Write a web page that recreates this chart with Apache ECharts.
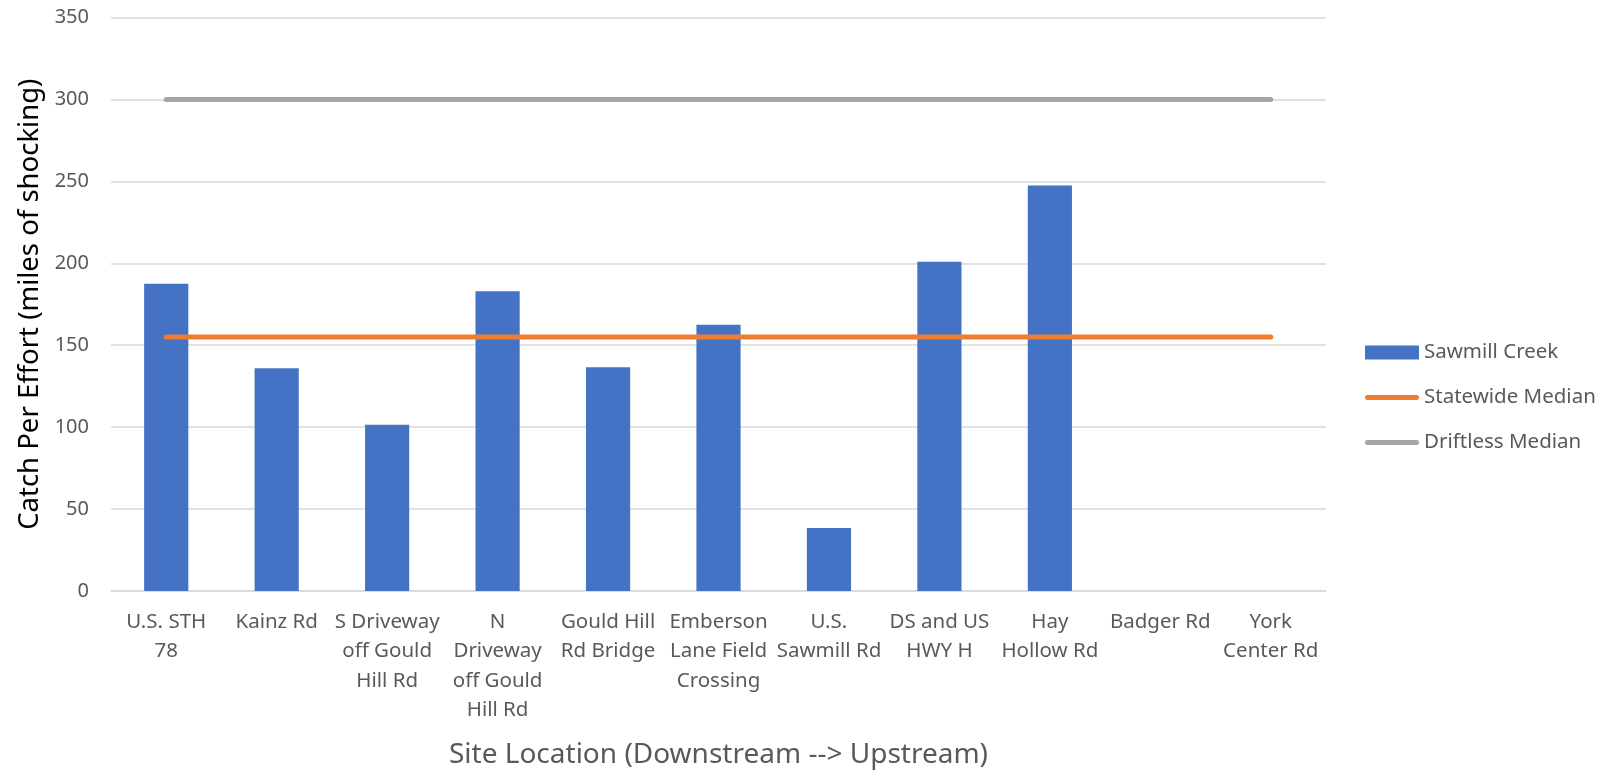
<!DOCTYPE html>
<html>
<head>
<meta charset="utf-8">
<script src="https://cdn.jsdelivr.net/npm/echarts@6/dist/echarts.min.js"></script>
<style>
  html, body { margin: 0; padding: 0; background: #fff; }
  #chart { width: 1612px; height: 770px; }
</style>
</head>
<body>
<div id="chart"></div>
<script>
// sites, downstream -> upstream (line breaks as wrapped in the original)
const sites = [
  'U.S. STH\n78',
  'Kainz Rd',
  'S Driveway\noff Gould\nHill Rd',
  'N\nDriveway\noff Gould\nHill Rd',
  'Gould Hill\nRd Bridge',
  'Emberson\nLane Field\nCrossing',
  'U.S.\nSawmill Rd',
  'DS and US\nHWY H',
  'Hay\nHollow Rd',
  'Badger Rd',
  'York\nCenter Rd'
]
const sawmillCreek = [187.5, 136, 101.5, 183, 136.5, 162.5, 38.5, 201, 247.5, 0, 0]
const statewideMedian = [155, 155, 155, 155, 155, 155, 155, 155, 155, 155, 155]
const driftlessMedian = [300, 300, 300, 300, 300, 300, 300, 300, 300, 300, 300]
const yTicks = { min: 0, max: 350, interval: 50 }

const FONT = '"Noto Sans", "Open Sans", sans-serif'
const GREY_TEXT = '#595959'
// rounded line used as legend icon for the two median lines
const LINE_ICON = 'path://M2.5,0H51.5A2.5,2.5,0,0,1,51.5,5H2.5A2.5,2.5,0,0,1,2.5,0Z'

const chart = echarts.init(document.getElementById('chart'))

const option = {
  backgroundColor: '#fff',
  animation: false,
  textStyle: { fontFamily: FONT },
  grid: {
    left: 111,
    right: 286,
    top: 17.5,
    bottom: 179,
    containLabel: false,
    outerBoundsMode: 'none'
  },
  legend: {
    orient: 'vertical',
    left: 1360,
    top: 336.5,
    itemWidth: 54,
    itemHeight: 14,
    itemGap: 23,
    textStyle: { color: GREY_TEXT, fontSize: 20.5, lineHeight: 22, fontFamily: FONT },
    data: [
      { name: 'Sawmill Creek', icon: 'rect' },
      { name: 'Statewide Median', icon: LINE_ICON, itemStyle: { color: '#ED7D31' } },
      { name: 'Driftless Median', icon: LINE_ICON, itemStyle: { color: '#A5A5A5' } }
    ]
  },
  xAxis: {
    type: 'category',
    data: sites,
    name: 'Site Location (Downstream --> Upstream)',
    nameLocation: 'middle',
    nameGap: 150,
    nameTextStyle: { color: GREY_TEXT, fontSize: 28, fontFamily: FONT },
    axisTick: { show: false },
    axisLine: { show: true, lineStyle: { color: '#D9D9D9', width: 1.5 } },
    axisLabel: {
      color: GREY_TEXT,
      fontSize: 20.5,
      lineHeight: 29.5,
      margin: 16,
      interval: 0,
      fontFamily: FONT
    }
  },
  yAxis: {
    type: 'value',
    min: yTicks.min,
    max: yTicks.max,
    interval: yTicks.interval,
    name: 'Catch Per Effort (miles of shocking)',
    nameLocation: 'middle',
    nameGap: 66,
    nameTextStyle: { color: '#000', fontSize: 27.5, fontFamily: FONT },
    axisLine: { show: false },
    axisTick: { show: false },
    splitLine: { lineStyle: { color: '#D9D9D9', width: 1.5 } },
    axisLabel: { color: GREY_TEXT, fontSize: 20, margin: 22, fontFamily: FONT }
  },
  series: [
    {
      name: 'Sawmill Creek',
      type: 'bar',
      data: sawmillCreek,
      barWidth: '40%',
      itemStyle: { color: '#4472C4' },
      z: 2
    },
    {
      name: 'Statewide Median',
      type: 'line',
      data: statewideMedian,
      symbol: 'none',
      itemStyle: { color: '#ED7D31' },
      lineStyle: { color: '#ED7D31', width: 5, cap: 'round' },
      z: 3
    },
    {
      name: 'Driftless Median',
      type: 'line',
      data: driftlessMedian,
      symbol: 'none',
      itemStyle: { color: '#A5A5A5' },
      lineStyle: { color: '#A5A5A5', width: 5, cap: 'round' },
      z: 3
    }
  ]
}

chart.setOption(option)
</script>
</body>
</html>
